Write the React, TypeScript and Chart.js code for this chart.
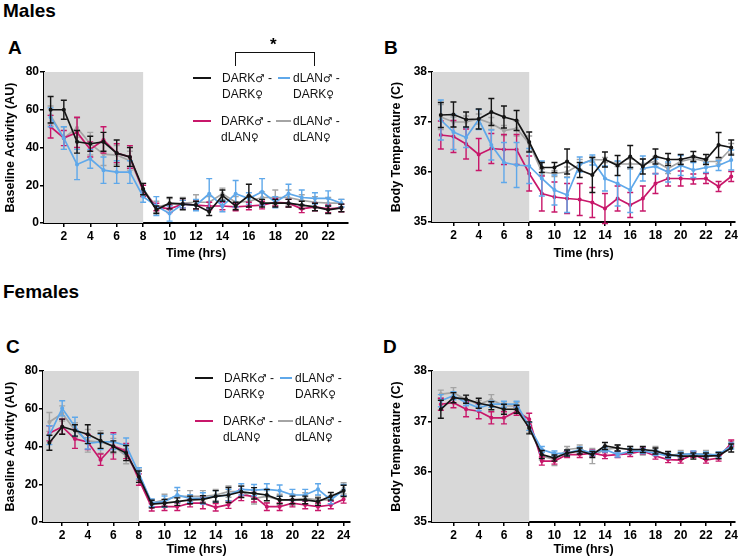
import React, { useEffect, useRef } from 'react';
import { Chart, registerables } from 'chart.js';
Chart.register(...registerables);

// ---------- DATA ----------
const hoursA = [1,2,3,4,5,6,7,8,9,10,11,12,13,14,15,16,17,18,19,20,21,22,23];
const hours24 = [1,2,3,4,5,6,7,8,9,10,11,12,13,14,15,16,17,18,19,20,21,22,23,24];
const ticksA = [2,4,6,8,10,12,14,16,18,20,22];
const ticks24 = [2,4,6,8,10,12,14,16,18,20,22,24];
const actTicks = [0,20,40,60,80];
const tempTicks = [35,36,37,38];

// Panel A: males, baseline activity
const aBlack   = [60,60,43,42,43,37,35,18,7,10.5,10,9.5,6,14.5,9,14.5,10.5,10.5,10.5,9.5,8.5,7,8];
const aBlackE  = [7,5,6,4,5,7,5,3,2,3,3,2,2,3,2,6,2,2,2,2,2,2,2];
const aMagenta = [51,45,48,39,44,37,35,17,8.5,7.5,10,9.5,9,9,8.5,9,9.5,11,10.5,7.5,8.5,7.5,8];
const aMagentaE= [6,4,8,4,7,5,6,3,2,2,2,2,2,2,2,2,2,2,2,2,2,2,2];
const aBlue    = [56,45,31,34,28,27,27,14,9,5,10,9.5,15.5,9,15.5,13,16.5,11,15.5,13.5,13,13,10.5];
const aBlueE   = [5,6,8,5,7,6,6,3,5,4,2,3,8,3,7,3,7,3,5,4,3,4,2];
const aGray    = [57,45,50.5,42,36.5,36,33,18,8.5,10,10.5,11,11,15.5,11,11.5,13.5,13.5,13.5,12,11,10.5,10.5];
const aGrayE   = [5,6,5,6,6,5,5,3,3,3,3,4,3,3,3,3,3,4,4,3,3,3,2];

// Panel B: males, body temperature
const bBlack   = [37.14,37.15,37.05,37.06,37.2,37.1,37.03,36.6,36.09,36.09,36.21,36.04,35.94,36.25,36.13,36.31,36.11,36.31,36.25,36.25,36.31,36.25,36.54,36.49];
const bBlackE  = [0.25,0.25,0.15,0.2,0.27,0.22,0.2,0.2,0.1,0.1,0.25,0.15,0.35,0.15,0.2,0.22,0.15,0.15,0.12,0.1,0.1,0.1,0.25,0.15];
const bMagenta = [36.74,36.71,36.56,36.35,36.47,36.45,36.45,35.97,35.57,35.5,35.47,35.45,35.39,35.27,35.47,35.34,35.47,35.77,35.87,35.87,35.86,35.87,35.71,35.91];
const bMagentaE= [0.28,0.32,0.3,0.32,0.3,0.3,0.3,0.35,0.35,0.3,0.3,0.32,0.3,0.3,0.25,0.25,0.25,0.2,0.15,0.15,0.1,0.1,0.1,0.1];
const bBlue    = [37.04,36.8,36.69,37.05,36.54,36.19,36.14,36.12,35.87,35.64,35.54,36.15,36.24,35.87,35.77,35.64,36.07,36.11,36.0,36.13,36.04,36.09,36.13,36.24];
const bBlueE   = [0.4,0.35,0.2,0.2,0.3,0.4,0.45,0.35,0.35,0.3,0.35,0.15,0.1,0.25,0.45,0.45,0.25,0.15,0.2,0.2,0.15,0.1,0.1,0.2];
const bGray    = [37.1,37.0,37.0,37.06,36.97,36.83,36.87,36.57,36.0,35.97,36.0,36.15,36.25,36.24,36.16,36.16,36.16,36.21,36.07,36.21,36.27,36.21,36.21,36.47];
const bGrayE   = [0.25,0.1,0.12,0.1,0.12,0.1,0.15,0.15,0.06,0.06,0.1,0.1,0.05,0.05,0.05,0.1,0.1,0.1,0.1,0.05,0.05,0.05,0.05,0.1];

// Panel C: females, baseline activity
const cBlack   = [42,50.5,48.5,46.5,43,40,36.5,24,9.5,10,10.8,11.7,12,13.6,14.3,16,15.2,14.3,11.7,11.7,11.7,10.8,13.6,16.5];
const cBlackE  = [4,4,3,5,4,3,4,3,2,2,2,2,2,3,4,3,3,3,2,2,2,2,2,3];
const cMagenta = [47,50.5,44,42.4,33,40.3,37.6,22.5,7.8,8.1,8.1,10,10,7.8,9.2,14.3,13.6,8.1,8.1,10,9,8.1,9,12];
const cMagentaE= [4,4,5,4,3,7,4,3,2,2,2,2,3,2,2,3,3,2,2,2,2,2,2,2];
const cBlue    = [46,60.2,50.5,41.7,42.4,42.4,40.5,25.8,10.2,10.8,14.3,12.5,12.5,13.6,14.3,17.3,16.9,17.3,16.6,14.3,14.3,17.3,11.7,16.9];
const cBlueE   = [5,4,5,3,4,4,4,3,2,3,4,2,3,3,3,3,3,3,3,3,3,3,2,3];
const cGray    = [53,57.5,48.6,43,42.4,40.3,34.9,25,10,11.7,13.6,13.6,13.6,14.3,16.1,16.1,12.5,13.6,11.7,11.7,12.5,11.7,11.7,17.8];
const cGrayE   = [5,4,4,6,6,4,4,3,2,3,3,3,3,3,3,3,3,3,3,3,3,2,2,3];

// Panel D: females, body temperature
const dBlack   = [37.24,37.47,37.44,37.36,37.31,37.24,37.24,36.87,36.34,36.27,36.37,36.41,36.34,36.51,36.47,36.44,36.44,36.41,36.34,36.31,36.31,36.31,36.32,36.47];
const dBlackE  = [0.18,0.1,0.08,0.1,0.08,0.1,0.08,0.12,0.08,0.06,0.06,0.06,0.06,0.07,0.06,0.06,0.06,0.06,0.06,0.06,0.06,0.06,0.06,0.08];
const dMagenta = [37.34,37.37,37.24,37.2,37.07,37.07,37.2,37.04,36.21,36.21,36.34,36.34,36.37,36.32,36.34,36.36,36.41,36.31,36.24,36.23,36.34,36.23,36.27,36.57];
const dMagentaE= [0.12,0.1,0.15,0.15,0.12,0.12,0.08,0.12,0.08,0.06,0.06,0.06,0.06,0.06,0.06,0.06,0.06,0.06,0.06,0.06,0.06,0.06,0.06,0.06];
const dBlue    = [37.41,37.51,37.37,37.27,37.34,37.34,37.34,36.9,36.44,36.36,36.37,36.44,36.37,36.44,36.34,36.41,36.41,36.37,36.31,36.34,36.36,36.34,36.34,36.51];
const dBlueE   = [0.12,0.08,0.06,0.06,0.06,0.06,0.06,0.08,0.06,0.05,0.05,0.05,0.05,0.05,0.05,0.05,0.05,0.05,0.05,0.05,0.05,0.05,0.05,0.06];
const dGray    = [37.54,37.57,37.43,37.34,37.43,37.31,37.3,36.87,36.31,36.24,36.44,36.47,36.31,36.44,36.47,36.44,36.39,36.44,36.31,36.36,36.34,36.36,36.31,36.54];
const dGrayE   = [0.08,0.1,0.08,0.08,0.1,0.08,0.08,0.1,0.08,0.12,0.06,0.06,0.15,0.06,0.06,0.06,0.06,0.06,0.06,0.06,0.06,0.06,0.06,0.06];

const COLORS = { black: '#151515', magenta: '#c8176a', blue: '#5fa8ea', gray: '#a4a4a4' };
const FONT = '"Liberation Sans", Arial, Helvetica, sans-serif';

// ---------- PLUGINS ----------
const shadePlugin = {
  id: 'darkShade',
  beforeDatasetsDraw(chart: any) {
    const { ctx, chartArea, scales } = chart;
    const x8 = scales.x.getPixelForValue(8);
    ctx.save();
    ctx.fillStyle = '#d8d8d8';
    ctx.fillRect(chartArea.left, chartArea.top, x8 - chartArea.left, chartArea.bottom - chartArea.top);
    ctx.restore();
  },
};

const errorBarPlugin = {
  id: 'errBars',
  afterDatasetDraw(chart: any, args: any) {
    const ds = chart.data.datasets[args.index];
    const err = ds.errors;
    if (!err) return;
    const { ctx } = chart;
    const ys = chart.scales.y;
    ctx.save();
    ctx.strokeStyle = ds.borderColor;
    ctx.lineWidth = 1.4;
    args.meta.data.forEach((pt: any, i: number) => {
      const v = ds.data[i].y;
      const e = err[i];
      const x = pt.x;
      const y1 = ys.getPixelForValue(v + e);
      const y2 = ys.getPixelForValue(v - e);
      ctx.beginPath();
      ctx.moveTo(x, y1); ctx.lineTo(x, y2);
      ctx.moveTo(x - 3, y1); ctx.lineTo(x + 3, y1);
      ctx.moveTo(x - 3, y2); ctx.lineTo(x + 3, y2);
      ctx.stroke();
    });
    ctx.restore();
  },
};

type Series = { vals: number[]; errs: number[]; color: string };

type PanelProps = {
  left: number; top: number; width: number; height: number;
  padTop: number; padRight: number; yWidth: number; xHeight: number;
  xMin: number; xMax: number; yMin: number; yMax: number;
  xTicks: number[]; yTicks: number[]; hours: number[];
  yTitle: string; series: Series[];
};

function Panel(p: PanelProps) {
  const ref = useRef<HTMLCanvasElement>(null);
  useEffect(() => {
    if (!ref.current) return;
    const tickFont = { family: FONT, size: 12, weight: 'bold' as const };
    const titleFont = { family: FONT, size: 12.5, weight: 'bold' as const };
    const chart = new Chart(ref.current, {
      type: 'line',
      data: {
        datasets: p.series.map((s) => ({
          data: p.hours.map((h, i) => ({ x: h, y: s.vals[i] })),
          errors: s.errs,
          borderColor: s.color,
          backgroundColor: s.color,
          borderWidth: 1.7,
          pointRadius: 1.2,
          pointHoverRadius: 1.2,
          tension: 0,
        })) as any,
      },
      options: {
        animation: false,
        responsive: false,
        maintainAspectRatio: false,
        layout: { padding: { top: p.padTop, right: p.padRight, left: 0, bottom: 0 } },
        plugins: { legend: { display: false }, tooltip: { enabled: false } },
        scales: {
          x: {
            type: 'linear',
            min: p.xMin,
            max: p.xMax,
            afterBuildTicks: (scale: any) => { scale.ticks = p.xTicks.map((v) => ({ value: v })); },
            afterFit: (scale: any) => { scale.height = p.xHeight; },
            ticks: { color: '#000', font: tickFont, padding: 2, maxRotation: 0, autoSkip: false, callback: (v: any) => String(v) },
            grid: { display: true, drawOnChartArea: false, drawTicks: true, tickLength: 4, color: '#000', lineWidth: 1.5 },
            border: { display: true, color: '#000', width: 2 },
            title: { display: true, text: 'Time (hrs)', color: '#000', font: titleFont, padding: { top: 0, bottom: 0 } },
          },
          y: {
            type: 'linear',
            min: p.yMin,
            max: p.yMax,
            afterBuildTicks: (scale: any) => { scale.ticks = p.yTicks.map((v) => ({ value: v })); },
            afterFit: (scale: any) => { scale.width = p.yWidth; },
            ticks: { color: '#000', font: tickFont, padding: 1, callback: (v: any) => String(v) },
            grid: { display: true, drawOnChartArea: false, drawTicks: true, tickLength: 4, color: '#000', lineWidth: 1.5 },
            border: { display: true, color: '#000', width: 2 },
            title: { display: true, text: p.yTitle, color: '#000', font: titleFont, padding: { top: 3, bottom: 0 } },
          },
        },
      } as any,
      plugins: [shadePlugin, errorBarPlugin],
    });
    return () => chart.destroy();
  }, []);
  return (
    <canvas
      ref={ref}
      width={p.width}
      height={p.height}
      style={{ position: 'absolute', left: p.left, top: p.top, width: p.width, height: p.height }}
    />
  );
}

function mk(vals: number[][], errs: number[][]): Series[] {
  const cols = [COLORS.black, COLORS.blue, COLORS.magenta, COLORS.gray];
  return vals.map((v, i) => ({ vals: v, errs: errs[i], color: cols[i] }));
}

const txt = (extra: React.CSSProperties): React.CSSProperties => ({
  position: 'absolute', fontFamily: FONT, color: '#111', whiteSpace: 'nowrap', ...extra,
});

const Sym = ({ c }: { c: string }) => (
  <span style={{ fontFamily: '"DejaVu Sans", sans-serif', fontSize: 10.5 }}>{c}</span>
);

function Legend({ top }: { top: number }) {
  const fs = 12;
  const lh = 16.5;
  const M = '\u2642';
  const F = '\u2640';
  const item = (lineLeft: number, lineW: number, textLeft: number, y: number, color: string, a: string, b: string) => (
    <>
      <div style={{ position: 'absolute', left: lineLeft, top: y - 1, width: lineW, height: 2, background: color }} />
      <div style={txt({ left: textLeft, top: y - lh / 2, fontSize: fs, lineHeight: lh + 'px' })}>
        {a}<Sym c={M} /> -<br />{b}<Sym c={F} />
      </div>
    </>
  );
  return (
    <>
      {item(193, 18, 222, top, COLORS.black, 'DARK', 'DARK')}
      {item(278, 12, 293, top, COLORS.blue, 'dLAN', 'DARK')}
      {item(193, 18, 221, top + 43, COLORS.magenta, 'DARK', 'dLAN')}
      {item(276, 15, 293, top + 43, COLORS.gray, 'dLAN', 'dLAN')}
    </>
  );
}

export default function App() {
  useEffect(() => { document.body.style.margin = '0'; }, []);
  const big = { fontSize: 19, fontWeight: 'bold' as const, lineHeight: '19px', color: '#000' };
  return (
    <div style={{ position: 'fixed', left: 0, top: 0, width: 740, height: 560, background: '#fff', overflow: 'hidden' }}>
      <div style={txt({ left: 3, top: 1, ...big })}>Males</div>
      <div style={txt({ left: 8, top: 38, ...big })}>A</div>
      <div style={txt({ left: 384, top: 38, ...big })}>B</div>
      <div style={txt({ left: 3, top: 282, ...big })}>Females</div>
      <div style={txt({ left: 6, top: 337, ...big })}>C</div>
      <div style={txt({ left: 383, top: 337, ...big })}>D</div>

      <Panel left={0} top={60} width={360} height={201} padTop={12} padRight={12} yWidth={44} xHeight={38}
        xMin={0.5} xMax={23.5} yMin={0} yMax={80} xTicks={ticksA} yTicks={actTicks} hours={hoursA}
        yTitle="Baseline Activity (AU)"
        series={mk([aBlack, aBlue, aMagenta, aGray], [aBlackE, aBlueE, aMagentaE, aGrayE])} />
      <Panel left={386} top={60} width={354} height={201} padTop={12} padRight={5} yWidth={46} xHeight={39}
        xMin={0.3} xMax={24.3} yMin={35} yMax={38} xTicks={ticks24} yTicks={tempTicks} hours={hours24}
        yTitle="Body Temperature (C)"
        series={mk([bBlack, bBlue, bMagenta, bGray], [bBlackE, bBlueE, bMagentaE, bGrayE])} />
      <Panel left={0} top={359} width={360} height={198} padTop={12} padRight={10} yWidth={43} xHeight={35}
        xMin={0.5} xMax={24.5} yMin={0} yMax={80} xTicks={ticks24} yTicks={actTicks} hours={hours24}
        yTitle="Baseline Activity (AU)"
        series={mk([cBlack, cBlue, cMagenta, cGray], [cBlackE, cBlueE, cMagentaE, cGrayE])} />
      <Panel left={386} top={359} width={354} height={198} padTop={12} padRight={5} yWidth={46} xHeight={35}
        xMin={0.3} xMax={24.3} yMin={35} yMax={38} xTicks={ticks24} yTicks={tempTicks} hours={hours24}
        yTitle="Body Temperature (C)"
        series={mk([dBlack, dBlue, dMagenta, dGray], [dBlackE, dBlueE, dMagentaE, dGrayE])} />

      {/* significance bracket */}
      <div style={{ position: 'absolute', left: 235, top: 52, width: 80, height: 14, borderTop: '1.5px solid #111', borderLeft: '1.5px solid #111', borderRight: '1.5px solid #111', boxSizing: 'border-box' }} />
      <div style={txt({ left: 270, top: 36, fontSize: 17, fontWeight: 'bold', lineHeight: '18px', color: '#000' })}>*</div>

      <Legend top={78} />
      <div style={{ position: 'absolute', left: 2, top: 300 }}>
        <Legend top={78} />
      </div>
    </div>
  );
}
